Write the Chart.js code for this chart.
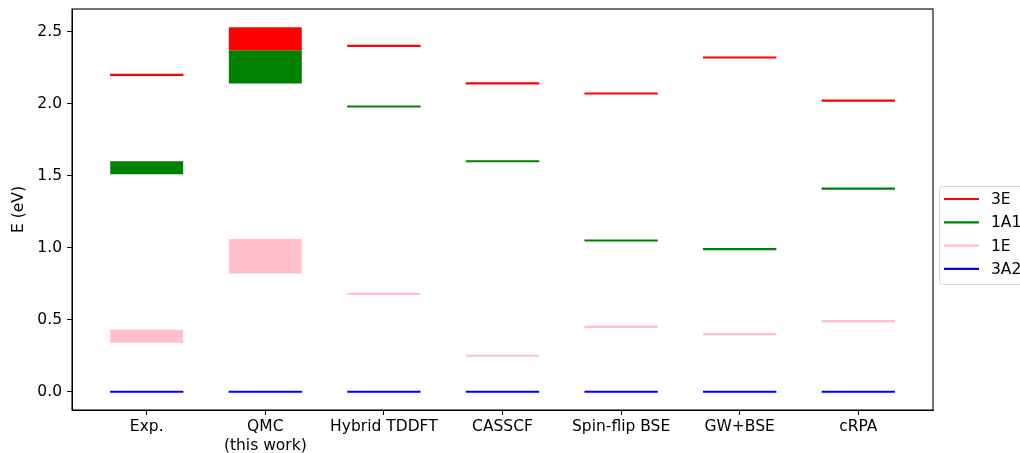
<!DOCTYPE html>
<html>
<head>
<meta charset="utf-8">
<script src="https://cdn.jsdelivr.net/npm/chart.js@4/dist/chart.umd.min.js"></script>
<style>
  body { margin: 0; background: #fff; }
  #wrap { width: 1020px; height: 453px; position: relative; }
</style>
</head>
<body>
<div id="wrap"><canvas id="levels"></canvas></div>
<script>
// methods along the x axis
const categories = ["Exp.", ["QMC", "(this work)"], "Hybrid TDDFT", "CASSCF", "Spin-flip BSE", "GW+BSE", "cRPA"];
const states = ["3E", "1A1", "1E", "3A2"];
const colors = ["red", "green", "pink", "blue"];

// single energy levels (eV), null where the method gives a range
const level3E  = [2.20, null, 2.40, 2.14, 2.07, 2.32, 2.02];
const level1A1 = [null, null, 1.98, 1.60, 1.05, 0.99, 1.41];
const level1E  = [null, null, 0.68, 0.25, 0.45, 0.40, 0.49];
const level3A2 = [0, 0, 0, 0, 0, 0, 0];

// ranges [low, high] (eV)
const range3E  = [null, [2.37, 2.53], null, null, null, null, null];
const range1A1 = [[1.51, 1.60], [2.14, 2.37], null, null, null, null, null];
const range1E  = [[0.34, 0.43], [0.82, 1.06], null, null, null, null, null];

const yTicks = [0, 0.5, 1.0, 1.5, 2.0, 2.5];

const levels = [level3E, level1A1, level1E, level3A2];
const ranges = [range3E, range1A1, range1E, null];

const HALF = 0.3; // half width of a level in category units

function levelPoints(vals) {
  const pts = [];
  vals.forEach((v, i) => {
    if (v === null) return;
    pts.push({ x: i - HALF, y: v }, { x: i + HALF, y: v }, { x: i + 0.5, y: null });
  });
  return pts;
}

function rangePoints(vals) {
  const pts = [];
  vals.forEach((r, i) => {
    if (r) pts.push({ x: i, y: r });
  });
  return pts;
}

const datasets = [];
states.forEach((s, k) => {
  if (ranges[k]) {
    datasets.push({
      type: "bar",
      label: s + " range",
      data: rangePoints(ranges[k]),
      backgroundColor: colors[k],
      borderWidth: 0,
      grouped: false,
      barPercentage: 0.615,
      categoryPercentage: 1.0,
    });
  }
  datasets.push({
    type: "line",
    label: s,
    data: levelPoints(levels[k]),
    borderColor: colors[k],
    borderWidth: 2.2,
    borderCapStyle: "square",
    pointRadius: 0,
    spanGaps: false,
    fill: false,
  });
});

const font = { family: "'DejaVu Sans', sans-serif", size: 15.5 };

const frame = {
  id: "frame",
  afterDraw(chart) {
    const { ctx, chartArea: a } = chart;
    ctx.save();
    ctx.strokeStyle = "#000";
    ctx.lineWidth = 1.1;
    ctx.strokeRect(a.left, a.top, a.right - a.left, a.bottom - a.top);
    ctx.restore();
  },
};

const sideLegend = {
  id: "sideLegend",
  afterDraw(chart) {
    const ctx = chart.ctx;
    const x0 = 939, y0 = 186, w = 110, h = 98, r = 3;
    ctx.save();
    ctx.fillStyle = "rgba(255,255,255,0.8)";
    ctx.strokeStyle = "#d6d6d6";
    ctx.lineWidth = 1;
    ctx.beginPath();
    ctx.roundRect(x0 + 0.5, y0 + 0.5, w, h, r);
    ctx.fill();
    ctx.stroke();
    ctx.font = "15.5px 'DejaVu Sans', sans-serif";
    ctx.textBaseline = "middle";
    states.forEach((s, k) => {
      const y = 199 + k * 23.3;
      ctx.strokeStyle = colors[k];
      ctx.lineWidth = 2.2;
      ctx.beginPath();
      ctx.moveTo(944, y);
      ctx.lineTo(979, y);
      ctx.stroke();
      ctx.fillStyle = "#000";
      ctx.fillText(s, 991, y + 1);
    });
    ctx.restore();
  },
};

new Chart(document.getElementById("levels"), {
  type: "bar",
  data: { datasets: datasets },
  plugins: [frame, sideLegend],
  options: {
    responsive: true,
    maintainAspectRatio: false,
    animation: false,
    layout: { padding: { top: 9, right: 87, left: 0, bottom: 0 } },
    plugins: {
      legend: { display: false },
      tooltip: { enabled: false },
    },
    scales: {
      x: {
        type: "linear",
        offset: false,
        min: -0.63,
        max: 6.63,
        afterBuildTicks: (scale) => {
          scale.ticks = categories.map((c, i) => ({ value: i }));
        },
        afterFit: (scale) => {
          scale.height = 43;
          scale.paddingLeft = 0;
          scale.paddingRight = 0;
        },
        ticks: {
          callback: (v) => categories[v],
          font: font,
          color: "#000",
          padding: 3,
          maxRotation: 0,
          autoSkip: false,
        },
        grid: { offset: false, drawOnChartArea: false, tickLength: 5, tickColor: "#000" },
        border: { color: "#000", width: 1 },
      },
      y: {
        type: "linear",
        min: -0.1265,
        max: 2.6565,
        afterBuildTicks: (scale) => {
          scale.ticks = yTicks.map((v) => ({ value: v }));
        },
        afterFit: (scale) => {
          scale.width = 72;
          scale.paddingTop = 0;
          scale.paddingBottom = 0;
        },
        ticks: {
          callback: (v) => v.toFixed(1),
          font: font,
          color: "#000",
          padding: 5,
        },
        title: {
          display: true,
          text: "E (eV)",
          font: font,
          color: "#000",
          padding: { top: 10, bottom: 4 },
        },
        grid: { drawOnChartArea: false, tickLength: 5, tickColor: "#000" },
        border: { color: "#000", width: 1 },
      },
    },
  },
});
</script>
</body>
</html>
